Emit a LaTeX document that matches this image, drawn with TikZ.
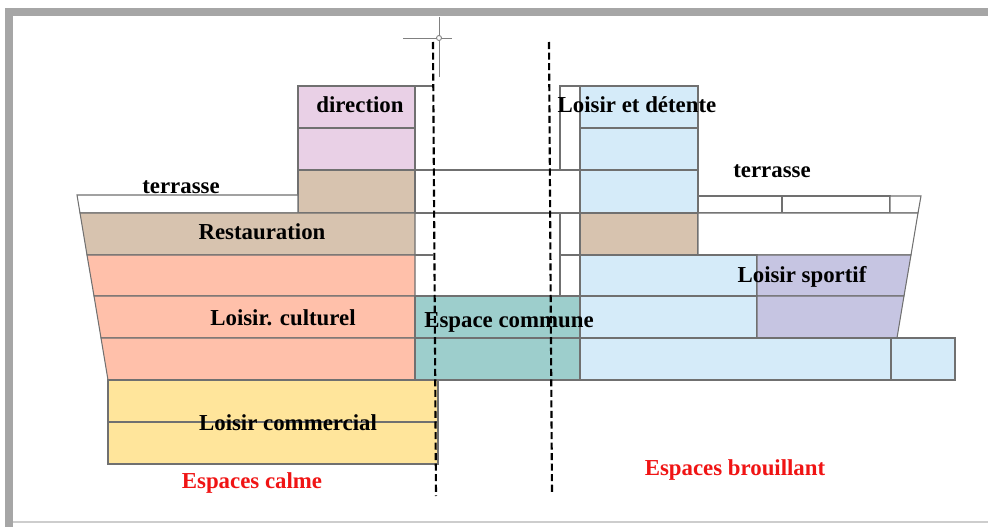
\documentclass[tikz,border=0pt]{standalone}
\usepackage{fontspec}
\setmainfont{Liberation Serif}
\usepackage{tikz}
\definecolor{mygray}{RGB}{112,112,112}
\definecolor{myframe}{RGB}{166,166,166}
\definecolor{mylight}{RGB}{205,205,205}
\definecolor{myred}{RGB}{240,20,20}
\definecolor{hdrpink}{RGB}{233,208,230}
\definecolor{hdrbrown}{RGB}{215,195,175}
\definecolor{hdrsalmon}{RGB}{255,192,170}
\definecolor{hdrteal}{RGB}{157,206,204}
\definecolor{hdrblue}{RGB}{213,235,249}
\definecolor{hdrpurple}{RGB}{198,197,226}
\definecolor{hdryellow}{RGB}{255,229,155}
\tikzset{
  cell/.style={draw=mygray, line width=0.6pt},
  pinkcell/.style={cell, fill=hdrpink},
  browncell/.style={cell, fill=hdrbrown},
  salmoncell/.style={cell, fill=hdrsalmon},
  tealcell/.style={cell, fill=hdrteal},
  bluecell/.style={cell, fill=hdrblue},
  purplecell/.style={cell, fill=hdrpurple},
  yellowcell/.style={cell, fill=hdryellow},
  whitecell/.style={cell, fill=white},
  roomlabel/.style={font=\fontsize{13}{15}\selectfont\bfseries, inner sep=0pt, anchor=base},
  zonelabel/.style={roomlabel, text=myred},
  limitline/.style={black, line width=1.2pt, dash pattern=on 4pt off 2pt},
  cursorline/.style={draw=gray, line width=0.5pt}
}

\begin{document}
\begin{tikzpicture}[x=0.02cm, y=-0.02cm]
  \useasboundingbox (0,0) rectangle (988,527);
  \fill[white] (0,0) rectangle (988,527);
  \fill[myframe] (5,8) rectangle (988,16);
  \fill[myframe] (5,8) rectangle (13,527);
  \draw[mylight, line width=0.6pt] (13,522) -- (988,522);

  \draw[cell] (415,86) -- (433,86);
  \draw[cell] (415,170) -- (580,170);
  \draw[cell] (415,213) -- (560,213);
  \draw[cell] (415,255) -- (433,255);
  \draw[whitecell] (560,86) rectangle (580,170);
  \draw[whitecell] (560,213) rectangle (580,255);
  \draw[whitecell] (560,255) rectangle (580,296);

  \draw[pinkcell] (298,86) rectangle (415,128);
  \draw[pinkcell] (298,128) rectangle (415,170);
  \draw[browncell] (298,170) rectangle (415,213);
  \draw[whitecell] (77,195) -- (298,195) -- (298,213) -- (80,213) -- cycle;
  \draw[browncell] (80,213) -- (415,213) -- (415,255) -- (87,255) -- cycle;
  \draw[salmoncell] (87,255) -- (415,255) -- (415,296) -- (94,296) -- cycle;
  \draw[salmoncell] (94,296) -- (415,296) -- (415,338) -- (101,338) -- cycle;
  \draw[salmoncell] (101,338) -- (415,338) -- (415,380) -- (108,380) -- cycle;
  \draw[yellowcell] (108,380) rectangle (438,422);
  \draw[yellowcell] (108,422) rectangle (438,464);

  \draw[tealcell] (415,296) rectangle (580,338);
  \draw[tealcell] (415,338) rectangle (580,380);

  \draw[bluecell] (580,86) rectangle (698,128);
  \draw[bluecell] (580,128) rectangle (698,170);
  \draw[bluecell] (580,170) rectangle (698,213);
  \draw[browncell] (580,213) rectangle (698,255);
  \draw[whitecell] (698,196) rectangle (782,213);
  \draw[whitecell] (782,196) rectangle (890,213);
  \draw[whitecell] (890,196) -- (921,196) -- (918,213) -- (890,213) -- cycle;
  \draw[whitecell] (698,213) -- (918,213) -- (911,255) -- (698,255) -- cycle;
  \draw[bluecell] (580,255) rectangle (757,296);
  \draw[purplecell] (757,255) -- (911,255) -- (904,296) -- (757,296) -- cycle;
  \draw[bluecell] (580,296) rectangle (757,338);
  \draw[purplecell] (757,296) -- (904,296) -- (897,338) -- (757,338) -- cycle;
  \draw[bluecell] (580,338) rectangle (891,380);
  \draw[bluecell] (891,338) rectangle (955,380);

  \coordinate (limA1) at (433,42);
  \coordinate (limA2) at (436,496);
  \coordinate (limB1) at (549,42);
  \coordinate (limB2) at (552,494);
  \draw[limitline] (limA1) -- (limA2);
  \draw[limitline] (limB1) -- (limB2);

  \coordinate (cursor) at (439,38);
  \draw[cursorline] (403,38) -- (452,38);
  \draw[cursorline] (439,17) -- (439,77);
  \draw[cursorline, fill=white] (cursor) circle (2.5);

  \node[roomlabel] (direction) at (360,113) {direction};
  \node[roomlabel] (detente) at (637,113) {Loisir et détente};
  \node[roomlabel] (terrL) at (181,194) {terrasse};
  \node[roomlabel] (terrR) at (772,177) {terrasse};
  \node[roomlabel] (resto) at (262,239) {Restauration};
  \node[roomlabel] (culturel) at (283,325) {Loisir. culturel};
  \node[roomlabel] (commune) at (509,327) {Espace commune};
  \node[roomlabel] (sportif) at (802,282) {Loisir sportif};
  \node[roomlabel] (commercial) at (288,430) {Loisir commercial};
  \node[zonelabel] (calme) at (252,488) {Espaces calme};
  \node[zonelabel] (brouillant) at (735,475) {Espaces brouillant};
\end{tikzpicture}
\end{document}
